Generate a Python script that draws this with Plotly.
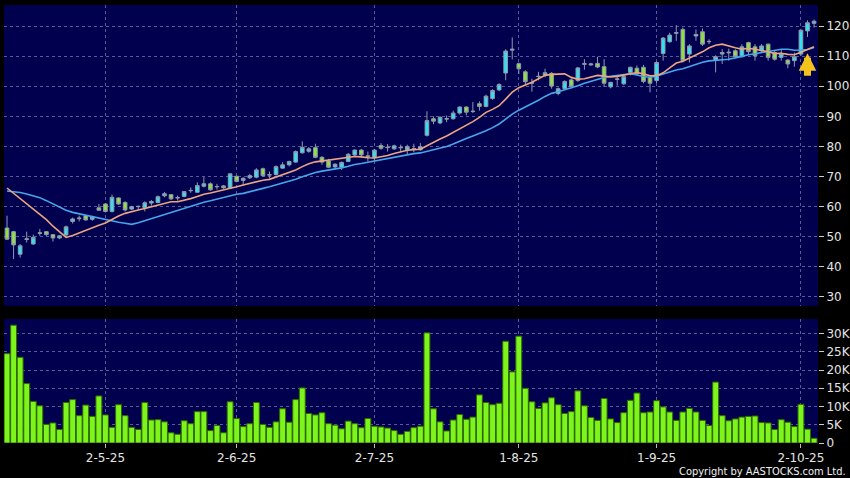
import pandas as pd
import plotly.graph_objects as go

# ---------------- data ----------------
HK_HOLIDAYS = ["2025-04-18", "2025-04-21", "2025-05-01", "2025-05-05",
               "2025-07-01", "2025-10-01"]
trade_days = pd.bdate_range("2025-04-08", "2025-10-06", freq="C", holidays=HK_HOLIDAYS)
dates = [f"{d.day}-{d.month}-{d.strftime('%y')}" for d in trade_days]

tick_labels = ["2-5-25", "2-6-25", "2-7-25", "1-8-25", "1-9-25", "2-10-25"]

opens = [52.9, 51.7, 44.2, 49.1, 47.6, 51.1, 51.7, 50.7, 49.6, 50.6,
         55.1, 56.0, 57.0, 55.8, 59.6, 60.9, 58.4, 62.9, 61.4, 59.2,
         60.0, 59.6, 61.2, 61.4, 63.6, 64.0, 62.9, 63.4, 65.3, 64.8,
         66.8, 67.6, 66.6, 66.9, 66.2, 70.1, 68.7, 69.6, 69.8, 72.6,
         70.5, 70.7, 72.8, 73.9, 74.8, 77.9, 78.4, 79.6, 76.4, 75.2,
         73.2, 73.1, 75.0, 77.2, 78.8, 76.9, 76.3, 80.3, 79.6, 79.2,
         79.7, 78.9, 79.2, 78.9, 83.7, 89.2, 87.8, 89.1, 89.2, 91.1,
         93.1, 91.6, 94.2, 93.3, 95.9, 98.8, 104.4, 112.0, 107.5, 104.8,
         101.0, 103.2, 103.7, 104.3, 97.6, 99.2, 102.1, 101.9, 107.3, 107.1,
         107.6, 106.5, 99.8, 102.3, 100.8, 104.6, 106.0, 106.3, 103.0, 101.9,
         110.9, 114.8, 117.6, 118.9, 110.7, 116.7, 118.1, 114.8, 108.7, 110.7,
         111.1, 111.8, 109.8, 114.5, 113.1, 111.8, 114.0, 111.2, 109.6, 108.7,
         108.5, 110.7, 118.4, 120.9]
highs = [57.0, 52.0, 47.6, 51.7, 50.7, 52.6, 51.8, 50.9, 50.6, 53.7,
         56.4, 57.0, 57.2, 57.0, 60.9, 61.1, 64.0, 63.1, 61.8, 60.3,
         60.3, 61.8, 62.2, 63.7, 64.9, 64.2, 63.7, 65.2, 66.4, 68.1,
         69.8, 68.1, 67.6, 67.2, 71.1, 70.3, 69.8, 70.9, 72.8, 73.0,
         71.7, 73.7, 74.8, 75.3, 78.7, 81.7, 79.8, 80.9, 76.8, 75.9,
         74.4, 75.0, 77.8, 79.0, 79.2, 78.3, 79.2, 81.1, 80.8, 80.6,
         80.6, 80.6, 80.9, 81.1, 91.7, 90.0, 90.0, 90.3, 91.9, 93.3,
         93.3, 94.8, 95.0, 97.2, 99.0, 101.0, 112.3, 116.2, 107.9, 105.3,
         102.5, 104.8, 105.8, 104.7, 99.6, 102.0, 102.6, 106.4, 109.0, 107.8,
         109.8, 109.0, 101.5, 103.5, 103.7, 106.5, 106.9, 107.1, 103.6, 108.3,
         116.4, 117.8, 120.3, 119.5, 114.0, 118.9, 119.2, 115.6, 110.3, 112.3,
         112.5, 112.3, 114.0, 114.8, 114.0, 114.0, 114.2, 111.8, 112.3, 109.0,
         111.2, 118.9, 121.9, 122.2]
lows = [48.9, 42.6, 43.1, 48.1, 47.3, 50.3, 50.3, 48.4, 49.2, 50.3,
        54.4, 55.1, 55.3, 55.3, 58.7, 58.1, 58.1, 60.6, 58.4, 58.9,
        58.9, 58.4, 60.3, 61.1, 63.1, 62.2, 62.0, 63.1, 64.6, 64.6,
        66.4, 65.3, 65.7, 65.9, 65.9, 68.1, 67.0, 69.2, 69.4, 70.0,
        69.4, 70.3, 72.6, 73.4, 74.6, 77.6, 77.9, 76.1, 73.9, 72.8,
        72.8, 72.2, 74.8, 76.7, 76.4, 75.0, 75.2, 78.9, 78.3, 78.9,
        78.1, 77.4, 78.1, 78.6, 83.3, 87.4, 87.4, 88.1, 88.9, 90.6,
        90.3, 91.1, 91.9, 93.0, 95.5, 98.4, 102.0, 108.9, 104.1, 100.3,
        98.2, 102.0, 103.0, 99.2, 97.0, 98.8, 99.3, 101.5, 105.5, 106.8,
        106.0, 99.8, 99.3, 100.2, 100.4, 103.6, 103.6, 101.0, 98.0, 101.1,
        108.5, 114.5, 115.1, 107.9, 107.9, 115.1, 113.4, 114.0, 104.6, 107.4,
        108.5, 109.4, 109.6, 110.7, 108.5, 111.2, 108.5, 108.5, 108.5, 106.0,
        106.5, 110.1, 116.4, 119.5]
closes = [49.2, 47.3, 47.0, 49.3, 49.8, 51.3, 50.7, 49.6, 50.3, 53.3,
          55.9, 56.2, 55.6, 56.7, 58.8, 58.4, 63.1, 60.9, 58.9, 60.0,
          60.1, 61.3, 61.7, 63.3, 64.3, 62.6, 63.0, 65.0, 65.4, 67.0,
          67.6, 65.6, 66.7, 66.3, 70.9, 68.4, 69.4, 70.3, 72.2, 70.3,
          70.6, 73.3, 73.9, 75.0, 78.3, 79.7, 79.2, 76.4, 74.8, 73.1,
          74.1, 74.7, 77.4, 78.8, 77.2, 76.6, 78.8, 79.4, 79.7, 80.2,
          79.6, 80.0, 79.3, 79.9, 88.6, 88.4, 89.7, 89.2, 91.1, 93.1,
          91.4, 91.7, 93.3, 96.7, 98.6, 100.6, 111.7, 112.3, 105.8, 101.5,
          101.2, 103.3, 104.5, 100.1, 99.2, 101.6, 100.0, 106.1, 107.5, 107.4,
          106.4, 101.0, 101.3, 102.4, 103.2, 106.3, 104.1, 101.6, 101.0, 107.9,
          116.0, 117.0, 117.8, 108.5, 113.4, 117.2, 114.0, 114.9, 109.8, 111.2,
          111.3, 109.8, 113.1, 111.5, 110.1, 113.4, 109.6, 109.0, 110.9, 107.4,
          109.8, 118.6, 121.1, 121.6]

# volume in thousands of shares
volume_k = [24.5, 32.3, 23.5, 16.3, 11.4, 10.2, 5.1, 5.5, 3.7, 11.1,
            11.9, 7.5, 10.4, 7.3, 12.9, 7.7, 4.3, 10.5, 7.5, 4.3,
            3.7, 11.1, 6.3, 6.4, 5.8, 2.8, 2.4, 6.1, 5.3, 8.6,
            8.6, 3.4, 4.8, 2.8, 11.3, 6.7, 4.5, 5.3, 11.1, 5.1,
            4.3, 5.8, 9.4, 5.7, 11.9, 15.1, 8.1, 7.7, 8.3, 5.3,
            4.9, 3.9, 6.0, 5.3, 4.2, 6.7, 4.6, 4.4, 4.1, 3.4,
            2.4, 3.2, 4.2, 4.6, 30.2, 9.4, 5.8, 3.3, 6.3, 7.8,
            6.5, 7.1, 13.2, 11.1, 10.5, 10.9, 27.9, 19.5, 29.3, 15.0,
            11.3, 9.5, 11.0, 12.4, 10.5, 8.1, 8.6, 14.3, 10.2, 7.0,
            6.2, 12.2, 6.6, 5.6, 8.3, 11.7, 13.7, 8.3, 8.5, 11.6,
            9.9, 8.5, 6.2, 8.5, 9.5, 8.5, 6.2, 4.8, 16.7, 7.5,
            6.1, 6.6, 7.1, 7.3, 7.4, 5.6, 5.5, 3.7, 6.4, 5.7,
            4.5, 10.6, 3.8, 1.3]

# moving-average values for the first bars (history before the window is not shown)
ma10_early = [66.2, 64.4, 62.8, 61.0, 59.2, 57.4, 55.7, 53.5, 51.6]
ma20_early = [65.2, 65.0, 64.7, 64.2, 63.6, 63.0, 62.0, 60.9, 59.9, 58.8,
              58.1, 57.6, 57.2, 56.7, 56.2, 55.6, 55.2, 54.8, 54.5]

price_ticks = [30, 40, 50, 60, 70, 80, 90, 100, 110, 120]
vol_ticks_k = [0, 5, 10, 15, 20, 25, 30]
arrow_tip_price = 111.0

# ---------------- derived ----------------
cs = pd.Series(closes)
ma10 = cs.rolling(10).mean().tolist()
ma20 = cs.rolling(20).mean().tolist()
ma10[:len(ma10_early)] = ma10_early
ma20[:len(ma20_early)] = ma20_early
volume = [v * 1000 for v in volume_k]

# ---------------- styling ----------------
BG = "#000000"
PLOT_BG = "#00004e"
GRID = "#5a5a96"
TXT = "#e4e4e4"
FONT = "DejaVu Sans"
WICK = "#8f9aac"

fig = go.Figure()
fig.add_trace(go.Candlestick(
    x=dates, open=opens, high=highs, low=lows, close=closes,
    xaxis="x", yaxis="y",
    increasing=dict(fillcolor="#36dff0", line=dict(color=WICK, width=1)),
    decreasing=dict(fillcolor="#8fe043", line=dict(color=WICK, width=1)),
    whiskerwidth=0, showlegend=False, hoverinfo="skip"))
fig.add_trace(go.Scatter(x=dates, y=ma20, mode="lines", xaxis="x", yaxis="y",
                         line=dict(color="#47a6ea", width=1.6),
                         showlegend=False, hoverinfo="skip"))
fig.add_trace(go.Scatter(x=dates, y=ma10, mode="lines", xaxis="x", yaxis="y",
                         line=dict(color="#eea47e", width=1.6),
                         showlegend=False, hoverinfo="skip"))
fig.add_trace(go.Bar(x=dates, y=volume, xaxis="x2", yaxis="y2",
                     marker=dict(color="#7df51c", line=dict(color="#2f6a00", width=1)),
                     showlegend=False, hoverinfo="skip"))

xr = [-0.46, len(dates) - 0.4]
common_x = dict(type="category", range=xr, tickmode="array", tickvals=tick_labels,
                showgrid=True, gridcolor=GRID, griddash="3px,3px", gridwidth=1,
                zeroline=False, showline=False, fixedrange=True, automargin=False)
common_y = dict(side="right", showgrid=True, gridcolor=GRID, griddash="3px,3px",
                ticks="outside", ticklen=5, tickcolor="#cccccc",
                zeroline=False, showline=False, automargin=False, fixedrange=True,
                tickfont=dict(size=12, color=TXT, family=FONT))

fig.update_layout(
    width=850, height=478, autosize=False,
    paper_bgcolor=BG, plot_bgcolor=PLOT_BG,
    margin=dict(l=4, r=32, t=5, b=35, pad=0),
    font=dict(family=FONT, color=TXT, size=12),
    bargap=0.1, boxgap=0.2, hovermode=False,
    xaxis=dict(**common_x, anchor="y", domain=[0, 1], showticklabels=False,
               ticks="", rangeslider=dict(visible=False)),
    xaxis2=dict(**common_x, anchor="y2", domain=[0, 1], showticklabels=True,
                ticks="outside", ticklen=4, tickcolor="#bbbbbb",
                tickfont=dict(size=12, color=TXT, family=FONT)),
    yaxis=dict(**common_y, domain=[0.3128, 1], range=[27, 127],
               tickmode="array", tickvals=price_ticks),
    yaxis2=dict(**common_y, domain=[0, 0.2831], range=[0, 34000],
                tickmode="array", tickvals=[v * 1000 for v in vol_ticks_k],
                ticktext=[("%dK" % v) if v else "0" for v in vol_ticks_k]),
    annotations=[
        dict(x=dates[-2], y=arrow_tip_price, xref="x", yref="y",
             ax=0, ay=24, axref="pixel", ayref="pixel",
             showarrow=True, arrowhead=2, arrowsize=0.5, arrowwidth=7,
             arrowcolor="#f4c21c", text=""),
        dict(text="Copyright by AASTOCKS.com Ltd.", xref="paper", yref="paper",
             x=1.037, y=-0.064, xanchor="right", yanchor="middle",
             showarrow=False,
             font=dict(family="DejaVu Sans Condensed, DejaVu Sans", size=11, color="#f0f0f0")),
    ],
)

fig.write_html("out.html", config={"displayModeBar": False, "staticPlot": True},
               post_script="document.body.style.margin='0px';document.body.style.background='#000';")
